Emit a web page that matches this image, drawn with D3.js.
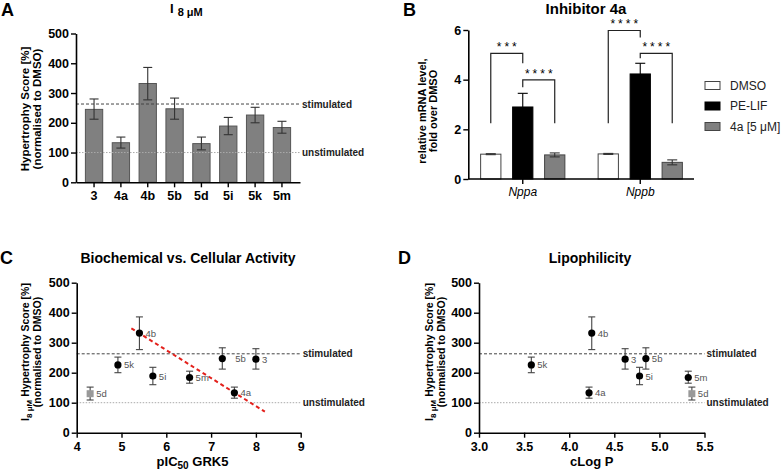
<!DOCTYPE html>
<html>
<head>
<meta charset="utf-8">
<script src="https://cdn.jsdelivr.net/npm/d3@7"></script>
<style>
  body { margin: 0; background: #fff; }
  svg { font-family: "Liberation Sans", Arial, sans-serif; }
</style>
</head>
<body>
<script>
// compounds, hypertrophy scores (mean and error bar ends)
const compounds = ["3", "4a", "4b", "5b", "5d", "5i", "5k", "5m"];
const scoreMean = [245, 133, 332, 247, 130, 189, 226, 184];
const scoreLow = [212, 115, 277, 212, 109, 160, 200, 165];
const scoreHigh = [280, 152, 386, 283, 152, 218, 252, 205];
const stimulated = 263;
const unstimulated = 100;
const scoreTicks = [0, 100, 200, 300, 400, 500];

// panel C / D x values
const pIC50 = [8.0, 7.52, 5.4, 7.25, 4.3, 5.7, 4.92, 6.52];
const cLogP = [4.62, 4.22, 4.25, 4.85, 5.36, 4.78, 3.58, 5.32];
const trendX = [5.22, 8.2];
const trendY = [348, 70];
const pICTicks = [4, 5, 6, 7, 8, 9];
const logPTicks = [3.0, 3.5, 4.0, 4.5, 5.0, 5.5];

// panel B
const genes = ["Nppa", "Nppb"];
const treatments = ["DMSO", "PE-LIF", "4a [5 μM]"];
const dmsoMean = [1.0, 1.01];
const dmsoErr = [0.02, 0.02];
const pelifMean = [2.9, 4.23];
const pelifErr = [0.55, 0.43];
const inhMean = [0.97, 0.67];
const inhErr = [0.08, 0.1];
const mrnaTicks = [0, 2, 4, 6];

const bracketGene = ["Nppa", "Nppa", "Nppb", "Nppb"];
const bracketFrom = ["DMSO", "PE-LIF", "DMSO", "PE-LIF"];
const bracketTo = ["PE-LIF", "4a [5 μM]", "PE-LIF", "4a [5 μM]"];
const bracketTop = [5.06, 3.99, 5.98, 5.06];
const bracketLeftEnd = [2.24, 3.69, 2.24, 4.86];
const bracketRightEnd = [4.66, 2.24, 5.7, 2.24];
const bracketStars = ["***", "****", "****", "****"];

const svg = d3.select("body").append("svg")
  .attr("width", 781)
  .attr("height", 472);

const scores = compounds.map((c, i) => ({
  name: c, mean: scoreMean[i], low: scoreLow[i], high: scoreHigh[i],
  pic: pIC50[i], logp: cLogP[i]
}));

function styleAxis(g) {
  g.selectAll(".domain").attr("stroke", "#000").attr("stroke-width", 1.6);
  g.selectAll(".tick line").attr("stroke", "#000").attr("stroke-width", 1.4);
  g.selectAll(".tick text")
    .attr("fill", "#000")
    .style("font-size", "12.5px")
    .style("font-weight", "bold")
    .style("font-family", "'Liberation Sans', Arial, sans-serif");
}

function panelLetter(x, y, t) {
  svg.append("text").attr("x", x).attr("y", y)
    .text(t)
    .style("font-size", "18px")
    .style("font-weight", "bold");
}

function refLines(g, x0, x1, y, labelX) {
  g.append("line")
    .attr("x1", x0).attr("x2", x1)
    .attr("y1", y(stimulated)).attr("y2", y(stimulated))
    .attr("stroke", "#444").attr("stroke-width", 1).attr("stroke-dasharray", "3,2");
  g.append("line")
    .attr("x1", x0).attr("x2", x1)
    .attr("y1", y(unstimulated)).attr("y2", y(unstimulated))
    .attr("stroke", "#aaa").attr("stroke-width", 1).attr("stroke-dasharray", "1.5,1.5");
  [["stimulated", stimulated], ["unstimulated", unstimulated]].forEach(([t, v]) => {
    g.append("text")
      .attr("x", labelX).attr("y", y(v))
      .attr("dominant-baseline", "central")
      .text(t)
      .style("font-size", "10px")
      .style("font-weight", "bold")
      .attr("fill", "#222");
  });
}

// ---------- Panel A ----------
{
  const g = svg.append("g");
  const y = d3.scaleLinear().domain([0, 500]).range([182.3, 33.5]);
  const x = d3.scaleBand().domain(compounds).range([76, 300])
    .paddingInner(0.355).paddingOuter(0.35);

  g.selectAll("rect.bar")
    .data(scores)
    .enter()
    .append("rect")
    .attr("class", "bar")
    .attr("x", d => x(d.name))
    .attr("y", d => y(d.mean))
    .attr("width", x.bandwidth())
    .attr("height", d => y(0) - y(d.mean))
    .attr("fill", "#808080")
    .attr("stroke", "#555")
    .attr("stroke-width", 1);

  refLines(g, 76, 300, y, 302);

  const eb = g.selectAll("g.err").data(scores).enter().append("g")
    .attr("transform", d => `translate(${x(d.name) + x.bandwidth() / 2},0)`)
    .attr("stroke", "#333").attr("stroke-width", 1.1);
  eb.append("line").attr("y1", d => y(d.low)).attr("y2", d => y(d.high));
  eb.append("line").attr("x1", -4.5).attr("x2", 4.5).attr("y1", d => y(d.low)).attr("y2", d => y(d.low));
  eb.append("line").attr("x1", -4.5).attr("x2", 4.5).attr("y1", d => y(d.high)).attr("y2", d => y(d.high));

  g.append("g").attr("transform", "translate(76,0)")
    .call(d3.axisLeft(y).tickValues(scoreTicks).tickSize(5).tickSizeOuter(0).tickPadding(2))
    .call(styleAxis);
  g.append("g").attr("transform", `translate(0,${y(0)})`)
    .call(d3.axisBottom(x).tickSize(5).tickSizeOuter(0).tickPadding(4))
    .call(styleAxis);

  const lbl = g.append("text")
    .attr("transform", "translate(25,109) rotate(-90)")
    .attr("text-anchor", "middle")
    .style("font-size", "11.5px").style("font-weight", "bold");
  lbl.append("tspan").attr("x", 0).attr("dy", "0.35em").text("Hypertrophy Score [%]");
  lbl.append("tspan").attr("x", 0).attr("dy", "1.05em").text("(normalised to DMSO)");

  const t = g.append("text").attr("x", 170).attr("y", 13)
    .style("font-weight", "bold").style("font-size", "13px");
  t.append("tspan").text("I");
  t.append("tspan").attr("dx", 4).attr("dy", 3).style("font-size", "11px").text("8 μM");

  panelLetter(1, 16, "A");
}

// ---------- Panel B ----------
{
  const g = svg.append("g");
  const y = d3.scaleLinear().domain([0, 6]).range([179, 30]);
  const x0 = d3.scaleBand().domain(genes).range([464, 699]);
  const x1 = d3.scaleBand().domain(treatments).range([0, x0.bandwidth()])
    .paddingInner(0.366).paddingOuter(0.52);
  const color = d3.scaleOrdinal().domain(treatments).range(["#fff", "#000", "#808080"]);

  const rows = [];
  genes.forEach((gene, i) => {
    rows.push({ gene, t: treatments[0], mean: dmsoMean[i], err: dmsoErr[i] });
    rows.push({ gene, t: treatments[1], mean: pelifMean[i], err: pelifErr[i] });
    rows.push({ gene, t: treatments[2], mean: inhMean[i], err: inhErr[i] });
  });
  const cx = (gene, t) => x0(gene) + x1(t) + x1.bandwidth() / 2;

  g.selectAll("rect.bar")
    .data(rows)
    .enter()
    .append("rect")
    .attr("x", d => x0(d.gene) + x1(d.t))
    .attr("y", d => y(d.mean))
    .attr("width", x1.bandwidth())
    .attr("height", d => y(0) - y(d.mean))
    .attr("fill", d => color(d.t))
    .attr("stroke", d => d.t === "PE-LIF" ? "#000" : "#444")
    .attr("stroke-width", 1);

  const eb = g.selectAll("g.err").data(rows).enter().append("g")
    .attr("transform", d => `translate(${cx(d.gene, d.t)},0)`)
    .attr("stroke", d => d.t === "PE-LIF" ? "#000" : "#333").attr("stroke-width", 1.1);
  eb.append("line").attr("y1", d => y(d.mean - d.err)).attr("y2", d => y(d.mean + d.err));
  eb.append("line").attr("x1", -5).attr("x2", 5).attr("y1", d => y(d.mean + d.err)).attr("y2", d => y(d.mean + d.err));
  eb.filter(d => d.t !== "PE-LIF").append("line").attr("x1", -5).attr("x2", 5)
    .attr("y1", d => y(d.mean - d.err)).attr("y2", d => y(d.mean - d.err));

  // significance brackets
  bracketGene.forEach((gene, i) => {
    const xa = cx(gene, bracketFrom[i]);
    const xb = cx(gene, bracketTo[i]);
    g.append("path")
      .attr("d", `M${xa},${y(bracketLeftEnd[i])}V${y(bracketTop[i])}H${xb}V${y(bracketRightEnd[i])}`)
      .attr("fill", "none").attr("stroke", "#222").attr("stroke-width", 1.2);
    g.append("text")
      .attr("x", (xa + xb) / 2 + 1.5).attr("y", y(bracketTop[i]) - 2)
      .attr("text-anchor", "middle")
      .style("font-size", "12px").style("letter-spacing", "3px")
      .text(bracketStars[i]);
  });

  g.append("g").attr("transform", "translate(468.3,0)")
    .call(d3.axisLeft(y).tickValues(mrnaTicks).tickFormat(d3.format("d"))
      .tickSize(5).tickSizeOuter(0).tickPadding(2))
    .call(styleAxis);
  const xa = g.append("g").attr("transform", `translate(0,${y(0)})`)
    .call(d3.axisBottom(x0).tickSize(5).tickSizeOuter(0).tickPadding(3))
    .call(styleAxis);
  xa.select(".domain").attr("d", "M468.3,0H694");
  xa.selectAll(".tick text").style("font-weight", "normal").style("font-style", "italic").style("font-size", "12px");

  const lbl = g.append("text")
    .attr("transform", "translate(422,111) rotate(-90)")
    .attr("text-anchor", "middle")
    .style("font-size", "11px").style("font-weight", "bold");
  lbl.append("tspan").attr("x", 0).attr("dy", "0.35em").text("relative mRNA level,");
  lbl.append("tspan").attr("x", 0).attr("dy", "1.05em").text("fold over DMSO");

  g.append("text").attr("x", 586).attr("y", 14)
    .attr("text-anchor", "middle")
    .style("font-size", "15px").style("font-weight", "bold")
    .text("Inhibitor 4a");

  const leg = g.selectAll("g.leg").data(treatments).enter().append("g")
    .attr("transform", (d, i) => `translate(705,${85.5 + i * 20.5})`);
  leg.append("rect").attr("x", 0).attr("y", -4).attr("width", 15).attr("height", 8)
    .attr("fill", d => color(d)).attr("stroke", d => d === "PE-LIF" ? "#000" : "#444");
  leg.append("text").attr("x", 25).attr("y", 0).attr("dominant-baseline", "central")
    .style("font-size", "12px").attr("fill", "#222").text(d => d);

  panelLetter(403, 16, "B");
}

// ---------- scatter panels C and D ----------
function scatterPanel(opts) {
  const g = svg.append("g");
  const y = d3.scaleLinear().domain([0, 500]).range([432.7, 282.7]);
  const x = d3.scaleLinear().domain(opts.domain).range(opts.range);

  refLines(g, opts.range[0], opts.range[1], y, opts.range[1] + 2);

  if (opts.trend) {
    g.append("line")
      .attr("x1", x(trendX[0])).attr("y1", y(trendY[0]))
      .attr("x2", x(trendX[1])).attr("y2", y(trendY[1]))
      .attr("stroke", "#e3201b").attr("stroke-width", 2).attr("stroke-dasharray", "4,3");
  }

  const pts = g.selectAll("g.pt").data(scores).enter().append("g")
    .attr("transform", d => `translate(${x(d[opts.key])},0)`);
  pts.append("line").attr("y1", d => y(d.low)).attr("y2", d => y(d.high))
    .attr("stroke", "#444").attr("stroke-width", 1.1);
  pts.append("line").attr("x1", -3.5).attr("x2", 3.5).attr("y1", d => y(d.low)).attr("y2", d => y(d.low))
    .attr("stroke", "#444").attr("stroke-width", 1.1);
  pts.append("line").attr("x1", -3.5).attr("x2", 3.5).attr("y1", d => y(d.high)).attr("y2", d => y(d.high))
    .attr("stroke", "#444").attr("stroke-width", 1.1);
  pts.filter(d => d.name !== "5d").append("circle")
    .attr("cy", d => y(d.mean)).attr("r", 3.6).attr("fill", "#000");
  pts.filter(d => d.name === "5d").append("rect")
    .attr("x", -3.5).attr("y", d => y(d.mean) - 3.5).attr("width", 7).attr("height", 7).attr("fill", "#999");
  pts.append("text")
    .attr("x", d => (opts.labelDx[d.name] || 6))
    .attr("y", d => y(d.mean))
    .attr("dominant-baseline", "central")
    .style("font-size", "9.5px").attr("fill", "#555")
    .text(d => d.name);

  g.append("g").attr("transform", `translate(${opts.range[0]},0)`)
    .call(d3.axisLeft(y).tickValues(scoreTicks).tickSize(5).tickSizeOuter(0).tickPadding(2))
    .call(styleAxis);
  g.append("g").attr("transform", `translate(0,${y(0)})`)
    .call(d3.axisBottom(x).tickValues(opts.ticks).tickFormat(opts.fmt).tickSize(5).tickSizeOuter(0).tickPadding(4))
    .call(styleAxis);

  const lbl = g.append("text")
    .attr("transform", `translate(${opts.labelX},352) rotate(-90)`)
    .attr("text-anchor", "middle")
    .style("font-size", "10.5px").style("font-weight", "bold");
  const l1 = lbl.append("tspan").attr("x", 0).attr("dy", "0.35em");
  l1.append("tspan").text("I");
  l1.append("tspan").attr("dy", 3).style("font-size", "8px").text("8 μM");
  l1.append("tspan").attr("dy", -3).text(" Hypertrophy  Score [%]");
  lbl.append("tspan").attr("x", 0).attr("dy", "1.15em").text("(normalised to DMSO)");

  const xt = g.append("text").attr("x", opts.titleX).attr("y", 466)
    .attr("text-anchor", "middle")
    .style("font-size", "13px").style("font-weight", "bold");
  opts.xTitle(xt);

  g.append("text").attr("x", opts.headX).attr("y", 263)
    .attr("text-anchor", "middle")
    .style("font-size", "14px").style("font-weight", "bold")
    .text(opts.head);
}

scatterPanel({
  key: "pic", domain: [4, 9], range: [76.7, 300.7], ticks: pICTicks, fmt: d3.format("d"),
  trend: true, labelDx: { "5b": 13 }, labelX: 25, titleX: 192.5, headX: 188,
  head: "Biochemical vs. Cellular Activity",
  xTitle: t => {
    t.append("tspan").text("pIC");
    t.append("tspan").attr("dy", 3).style("font-size", "10px").text("50");
    t.append("tspan").attr("dy", -3).text(" GRK5");
  }
});
panelLetter(0, 264, "C");

scatterPanel({
  key: "logp", domain: [3, 5.5], range: [479, 704.5], ticks: logPTicks, fmt: d3.format(".1f"),
  trend: false, labelDx: {}, labelX: 429, titleX: 591.7, headX: 590,
  head: "Lipophilicity",
  xTitle: t => t.text("cLog P")
});
panelLetter(398, 264, "D");
</script>
</body>
</html>
